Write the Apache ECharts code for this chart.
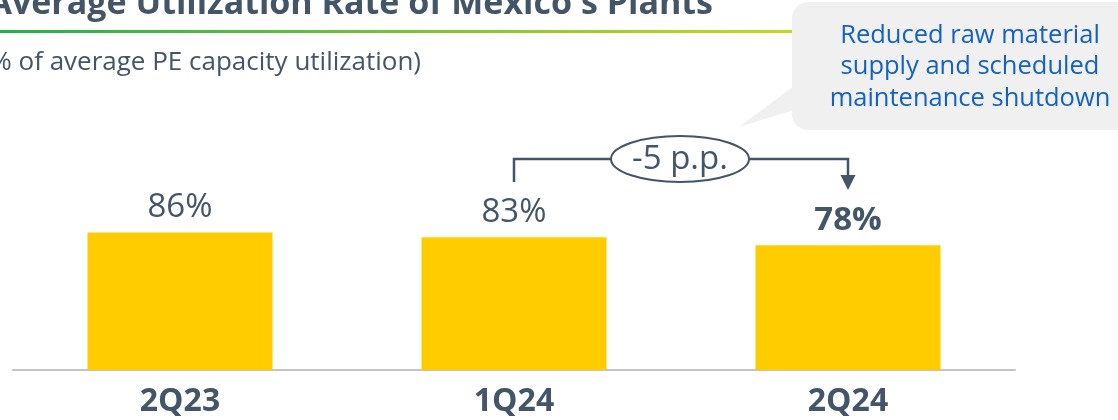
<!DOCTYPE html>
<html><head><meta charset="utf-8">
<script src="https://cdn.jsdelivr.net/npm/echarts@6/dist/echarts.min.js"></script>
<style>html,body{margin:0;padding:0;background:#fff}#c{width:1118px;height:420px}</style>
</head><body><div id="c"></div>
<script>
const categories = ['2Q23', '1Q24', '2Q24'];
const utilization = [86, 83, 78];
const boldLabel = [false, false, true];
const titleText = "Average Utilization Rate of Mexico's Plants";
const subtitleText = '(% of average PE capacity utilization)';
const calloutLines = ['Reduced raw material', 'supply and scheduled', 'maintenance shutdown'];
const deltaText = '-5 p.p.';

const FONT = '"Open Sans", "Noto Sans", sans-serif';
const TXT = '#435566';
const chart = echarts.init(document.getElementById('c'), null, {renderer: 'canvas'});

const option = {
  animation: false,
  grid: {left: 13, right: 103, bottom: 50, top: 210},
  xAxis: {
    type: 'category', data: categories,
    axisLine: {lineStyle: {color: '#c4c4c4', width: 2}},
    axisTick: {show: false},
    axisLabel: {color: TXT, fontFamily: FONT, fontWeight: 'bold', fontSize: 32, margin: 16}
  },
  yAxis: {type: 'value', min: 0, max: 100, show: false, splitLine: {show: false}},
  series: [{
    type: 'bar', barWidth: 185,
    data: utilization.map((v, i) => ({
      value: v,
      label: {fontWeight: boldLabel[i] ? 'bold' : 'normal'}
    })),
    itemStyle: {color: '#ffcc00'},
    label: {show: true, position: 'top', distance: 8, formatter: '{c}%',
            color: TXT, fontFamily: FONT, fontSize: 33}
  }]
};
chart.setOption(option);

const p1 = chart.convertToPixel({xAxisIndex: 0}, categories[1]);
const p2 = chart.convertToPixel({xAxisIndex: 0}, categories[2]);
const lineY = 159;
const ex = (p1 + p2) / 2 - 1, erx = 69, ery = 23;
const lineStyle = {stroke: '#435566', lineWidth: 2.5, fill: null};

chart.setOption({
  graphic: [
    {type: 'text', x: 713, y: 21, style: {text: titleText, align: 'right', verticalAlign: 'bottom',
      fill: TXT, font: 'bold 34px ' + FONT}},
    {type: 'rect', shape: {x: 0, y: 30, width: 793, height: 3},
      style: {fill: new echarts.graphic.LinearGradient(0, 0, 1, 0, [
        {offset: 0, color: '#22b04b'}, {offset: 1, color: '#c6d91e'}])}},
    {type: 'text', x: 421, y: 63, style: {text: subtitleText, align: 'right', verticalAlign: 'middle',
      fill: TXT, font: '26px ' + FONT}},
    {type: 'polygon', shape: {points: [[794, 86], [739, 127], [794, 110]]}, style: {fill: '#f0f0f0'}},
    {type: 'rect', shape: {x: 792, y: 2, width: 340, height: 128, r: 16}, style: {fill: '#f0f0f0'}},
    {type: 'text', x: 970, y: 67, style: {text: calloutLines.join('\n'), align: 'center', verticalAlign: 'middle',
      fill: '#1461c0', font: '25.5px ' + FONT, lineHeight: 31.5}},
    {type: 'polyline', shape: {points: [[p1, 182], [p1, lineY], [ex - erx, lineY]]}, style: lineStyle},
    {type: 'polyline', shape: {points: [[ex + erx, lineY], [p2, lineY], [p2, 176]]}, style: lineStyle},
    {type: 'polygon', shape: {points: [[p2 - 7.5, 175], [p2 + 7.5, 175], [p2, 190]]}, style: {fill: '#435566'}},
    {type: 'ellipse', shape: {cx: ex, cy: lineY, rx: erx, ry: ery}, style: {stroke: '#435566', lineWidth: 2, fill: '#fff'}},
    {type: 'text', x: ex, y: lineY + 1, style: {text: deltaText, align: 'center', verticalAlign: 'middle',
      fill: TXT, font: '33px ' + FONT}}
  ]
});
</script></body></html>
